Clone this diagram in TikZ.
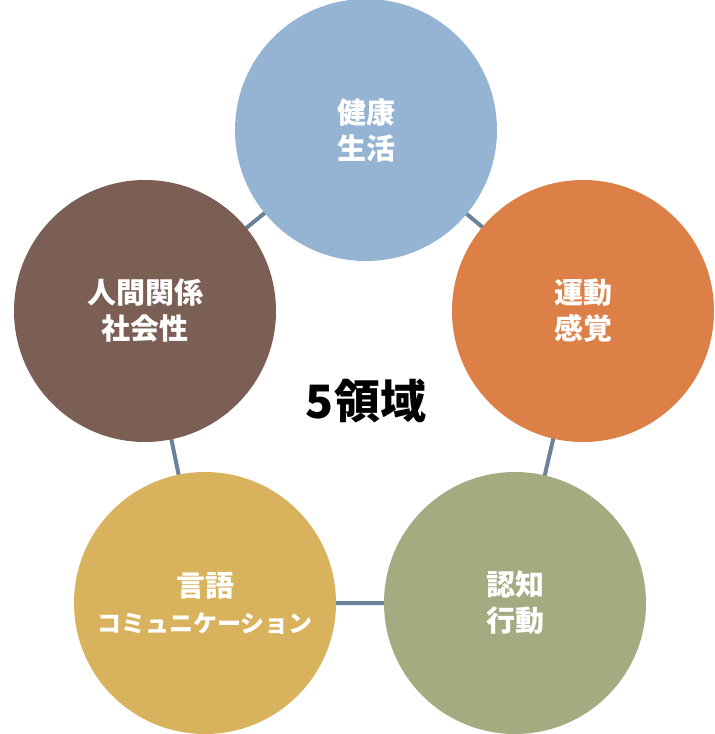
\documentclass[tikz,border=0pt]{standalone}
\usepackage{fontspec}
\newfontfamily\cjk{Noto Sans CJK JP}
\definecolor{c1}{HTML}{95B3D3}
\definecolor{c2}{HTML}{DD8047}
\definecolor{c3}{HTML}{A5AB81}
\definecolor{c4}{HTML}{D8B25C}
\definecolor{c5}{HTML}{7B5F54}
\definecolor{ln}{HTML}{6A829A}
\begin{document}
\begin{tikzpicture}[x=1pt,y=-1pt,
  circ/.style={circle,minimum size=262pt,inner sep=0pt,text=white,align=center,font=\cjk\bfseries\fontsize{29}{36}\selectfont},
  link/.style={draw=ln,line width=4pt}]
\useasboundingbox (0,0) rectangle (715,734);
\coordinate (p1) at (366,130);
\coordinate (p2) at (583,311);
\coordinate (p3) at (515,603);
\coordinate (p4) at (205,603);
\coordinate (p5) at (145,311);
\draw[link] (p1)--(p2)--(p3)--(p4)--(p5)--cycle;
\node[circ,fill=c1] (a) at (p1) {健康\\生活};
\node[circ,fill=c2] (b) at (p2) {運動\\感覚};
\node[circ,fill=c3] (c) at (p3) {認知\\行動};
\node[circ,fill=c4] (d) at (p4) {言語\\{\fontsize{24}{30}\selectfont コミュニケーション}};
\node[circ,fill=c5] (e) at (p5) {人間関係\\社会性};
\node[font=\cjk\bfseries\fontsize{46}{50}\selectfont] (t) at (366,401) {5領域};
\end{tikzpicture}
\end{document}
